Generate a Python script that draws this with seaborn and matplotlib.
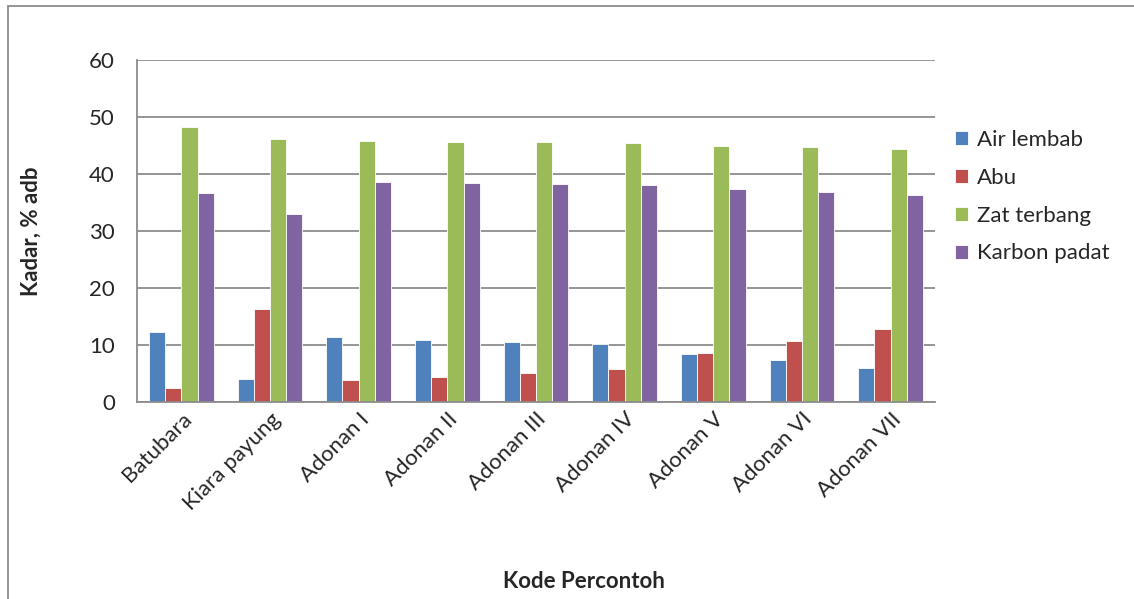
import pandas as pd
import seaborn as sns
import matplotlib.pyplot as plt
from matplotlib.patches import Rectangle

samples = ["Batubara", "Kiara payung", "Adonan I", "Adonan II", "Adonan III",
           "Adonan IV", "Adonan V", "Adonan VI", "Adonan VII"]
air_lembab = [12.2, 4.0, 11.4, 10.9, 10.5, 10.1, 8.5, 7.3, 6.0]
abu = [2.5, 16.4, 3.8, 4.4, 5.1, 5.8, 8.6, 10.7, 12.8]
zat_terbang = [48.2, 46.1, 45.8, 45.7, 45.6, 45.4, 45.0, 44.7, 44.4]
karbon_padat = [36.6, 33.0, 38.6, 38.5, 38.3, 38.1, 37.4, 36.8, 36.4]
series = ["Air lembab", "Abu", "Zat terbang", "Karbon padat"]
colors = ["#4F81BD", "#C0504D", "#9BBB59", "#8064A2"]

df = pd.DataFrame({"Kode": samples, "Air lembab": air_lembab, "Abu": abu,
                   "Zat terbang": zat_terbang, "Karbon padat": karbon_padat})
long = df.melt(id_vars="Kode", var_name="Komponen", value_name="Kadar")

sns.set_style("white")
plt.rcParams["font.family"] = ["Lato", "DejaVu Sans"]

fig = plt.figure(figsize=(11.34, 5.99), dpi=100)
ax = fig.add_axes([0.1208, 0.3289, 0.7037, 0.5709])

sns.barplot(data=long, x="Kode", y="Kadar", hue="Komponen", hue_order=series,
            palette=colors, saturation=1, width=0.73, gap=0,
            edgecolor="white", linewidth=0.6, ax=ax)

ax.set_ylim(0, 60)
ax.set_yticks(range(0, 61, 10))
ax.set_xlim(-0.5, len(samples) - 0.5)
ax.yaxis.grid(True, color="#8c8c8c", linewidth=1.3)
ax.set_axisbelow(True)
for s in ["top", "right"]:
    ax.spines[s].set_visible(False)
for s in ["left", "bottom"]:
    ax.spines[s].set_color("#8c8c8c")
    ax.spines[s].set_linewidth(1.3)
ax.tick_params(axis="both", length=0, labelsize=16)
ax.tick_params(axis="y", pad=16)
ax.tick_params(axis="x", pad=5)
plt.setp(ax.get_xticklabels(), rotation=45, ha="right", rotation_mode="anchor")

ax.set_xlabel("Kode Percontoh", fontsize=16, fontweight="bold", labelpad=0)
ax.xaxis.set_label_coords(0.56, -0.495)
ax.set_ylabel("Kadar, % adb", fontsize=16, fontweight="bold")
ax.yaxis.set_label_coords(-0.12, 0.5)

ax.legend(loc="center left", bbox_to_anchor=(1.0, 0.6), frameon=False,
          fontsize=16, handlelength=0.6, handleheight=0.6, handletextpad=0.4,
          labelspacing=0.8)

fig.patches.append(Rectangle((8 / 1134, -0.2), 1.2, 1.2 - 6 / 599,
                             transform=fig.transFigure, fill=False,
                             edgecolor="#8c8c8c", linewidth=1.3))

fig.savefig("out.png", dpi=100)
